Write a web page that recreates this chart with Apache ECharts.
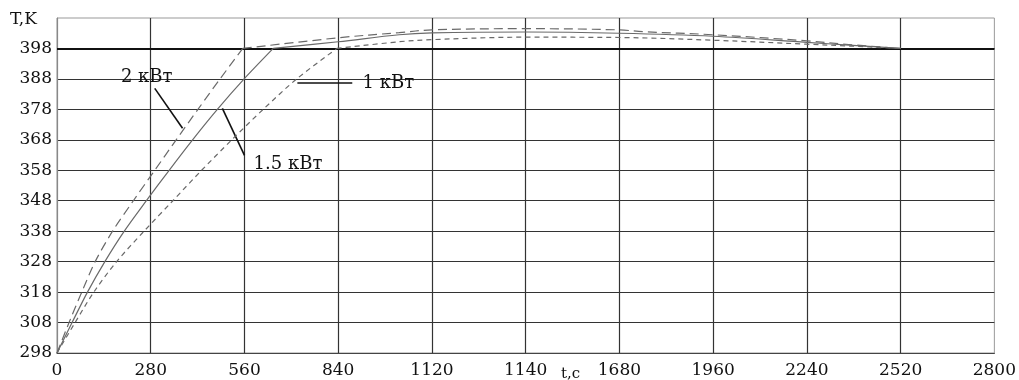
<!DOCTYPE html>
<html>
<head>
<meta charset="utf-8">
<script src="https://cdn.jsdelivr.net/npm/echarts@6/dist/echarts.min.js"></script>
<style>html,body{margin:0;padding:0;background:#fff;}#c{width:1019px;height:380px;}</style>
</head>
<body>
<div id="c"></div>
<script>
// ---- data ----
const xTickValues = [0, 280, 560, 840, 1120, 1400, 1680, 1960, 2240, 2520, 2800];
const xTickLabels = ['0', '280', '560', '840', '1120', '1140', '1680', '1960', '2240', '2520', '2800'];
const yTickLabels = ['298', '308', '318', '328', '338', '348', '358', '368', '378', '388', '398'];

// 2 kW (long dash)
const t2kW = [0, 36, 74, 114, 166, 228, 292, 356, 421, 487, 555, 840, 1022, 1120, 1400, 1680, 1750, 1960, 2240, 2365, 2520];
const T2kW = [298, 308, 318, 328, 338, 348, 358, 368, 378, 388, 398, 401.5, 403.2, 404.1, 404.5, 404.1, 403.5, 402.5, 400.5, 399.3, 398];
const kink2kW = 10;
// 1.5 kW (solid)
const t15kW = [0, 45, 91, 143, 201, 267, 335, 405, 479, 559, 646, 840, 1022, 1120, 1400, 1680, 1960, 2240, 2365, 2520];
const T15kW = [298, 308, 318, 328, 338, 348, 358, 368, 378, 388, 398, 400.2, 402.5, 403.1, 403.4, 403, 402, 400, 399.1, 398];
const kink15kW = 10;
// 1 kW (short dash)
const t1kW = [0, 54, 110, 178, 260, 346, 432, 522, 616, 716, 836, 1022, 1120, 1400, 1680, 1960, 2240, 2365, 2520];
const T1kW = [298, 308, 318, 328, 338, 348, 358, 368, 378, 388, 398, 400.2, 400.9, 401.7, 401.6, 400.7, 399.4, 398.8, 398];
const kink1kW = 10;

// annotation texts and leader lines (data coordinates)
const labelTexts = ['2 кВт', '1.5 кВт', '1 кВт'];
const labelPos = [[268, 388.6], [690, 360.0], [990, 386.7]];
const leaderFrom = [[292, 384.9], [494, 378.3], [718, 386.9]];
const leaderTo = [[375, 371.8], [560, 362.9], [882, 386.9]];

function pairs(ts, vs, a, b) {
  const out = [];
  for (let i = a; i <= b; i++) out.push([ts[i], vs[i]]);
  return out;
}

const curveColor = '#6a6a6a';
const serif = 'DejaVu Serif';

function curve(ts, vs, k, dash) {
  return [
    { type: 'line', data: pairs(ts, vs, 0, k), showSymbol: false, smooth: 0.3, silent: true,
      lineStyle: { color: curveColor, width: 1.2, type: dash }, z: 5 },
    { type: 'line', data: pairs(ts, vs, k, ts.length - 1), showSymbol: false, smooth: 0.35, silent: true,
      lineStyle: { color: curveColor, width: 1.2, type: dash }, z: 5 }
  ];
}

const series = [].concat(
  curve(t2kW, T2kW, kink2kW, [9, 5]),
  curve(t15kW, T15kW, kink15kW, 'solid'),
  curve(t1kW, T1kW, kink1kW, [5, 4])
);

series.push({
  type: 'line', data: [], silent: true,
  markLine: {
    silent: true, symbol: 'none', animation: false,
    label: { show: false },
    data: [
      { yAxis: 398, lineStyle: { color: '#111', width: 2, type: 'solid' } }
    ].concat(leaderFrom.map((p, i) => [
      { coord: p, lineStyle: { color: '#111', width: 1.6, type: 'solid' } },
      { coord: leaderTo[i] }
    ]))
  },
  markPoint: {
    silent: true, symbol: 'circle', symbolSize: 0, animation: false,
    label: { show: true, color: '#111', fontFamily: serif, fontSize: 18, position: 'inside' },
    data: labelTexts.map((s, i) => ({ coord: labelPos[i], value: s, label: { formatter: s } }))
  }
});

const chart = echarts.init(document.getElementById('c'));
chart.setOption({
  animation: false,
  backgroundColor: '#fff',
  grid: { left: 57, right: 21, top: 18, bottom: 27, show: true, borderColor: '#999', borderWidth: 1 },
  xAxis: {
    type: 'value', min: 0, max: 2800, interval: 280,
    axisLine: { show: true, lineStyle: { color: '#444', width: 1.2 } },
    axisTick: { show: false },
    splitLine: { show: true, showMinLine: false, showMaxLine: false, lineStyle: { color: '#333', width: 1.2 } },
    axisLabel: {
      margin: 9, color: '#111', fontFamily: serif, fontSize: 17,
      formatter: v => { const i = xTickValues.indexOf(v); return i >= 0 ? xTickLabels[i] : ''; }
    }
  },
  yAxis: {
    type: 'value', min: 298, max: 408, interval: 10,
    axisLine: { show: true, lineStyle: { color: '#888', width: 1.2 } },
    axisTick: { show: false },
    splitLine: { show: true, showMinLine: false, showMaxLine: false, lineStyle: { color: '#333', width: 1.2 } },
    axisLabel: {
      margin: 5, color: '#111', fontFamily: serif, fontSize: 17,
      formatter: v => { const i = yTickLabels.indexOf(String(v)); return i >= 0 ? yTickLabels[i] : ''; }
    }
  },
  graphic: [
    { type: 'text', left: 10, top: 11, style: { text: 'T,K', fill: '#111', font: '17px "DejaVu Serif"' } },
    { type: 'text', left: 561, top: 367, style: { text: 't,c', fill: '#111', font: '15px "DejaVu Serif"' } }
  ],
  series: series
});
</script>
</body>
</html>
